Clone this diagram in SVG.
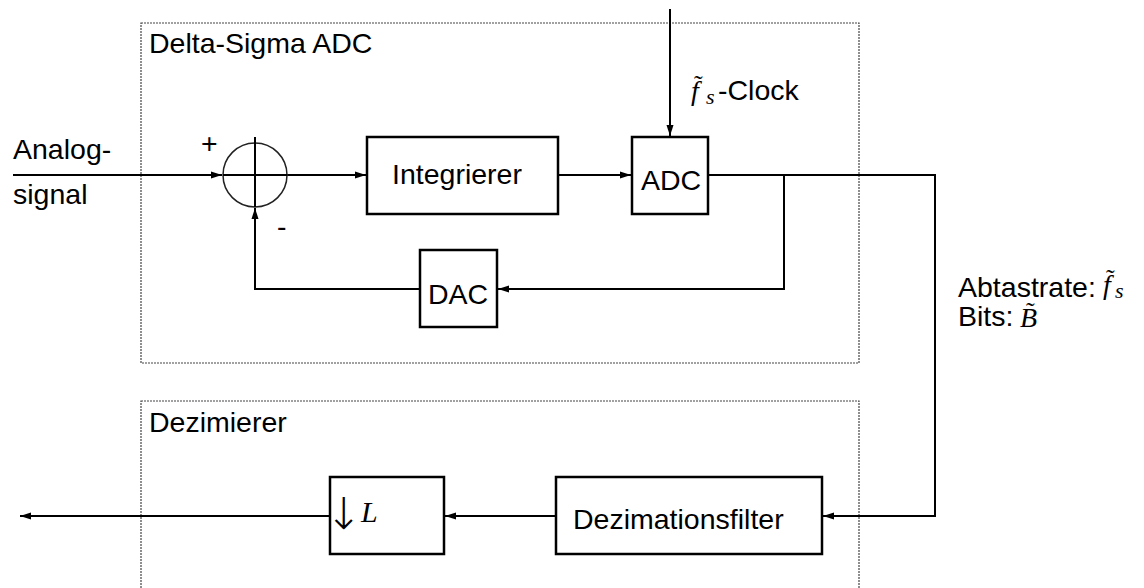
<svg xmlns="http://www.w3.org/2000/svg" width="1144" height="588" viewBox="0 0 1144 588">
<style>
.box{fill:#fff;stroke:#000;stroke-width:2.5}
.grp{fill:none;stroke:#444;stroke-width:1.2;stroke-dasharray:2 1}
.ln{fill:none;stroke:#000;stroke-width:2}
.t{font-family:"Liberation Sans",Arial,sans-serif;font-size:28.5px;fill:#000}
.m{font-family:"Liberation Serif","Times New Roman",serif;font-style:italic;fill:#000}
.ms{font-family:"Liberation Serif","Times New Roman",serif;fill:#000}
.ar{font-family:"DejaVu Sans",sans-serif;font-weight:200;fill:#000}
</style>
<defs>
<marker id="ah" markerWidth="12" markerHeight="8" refX="11" refY="4" orient="auto" markerUnits="userSpaceOnUse">
<path d="M0,0.5 L11,4 L0,7.5 Z" fill="#000"/>
</marker>
</defs>
<rect width="1144" height="588" fill="#fff"/>

<g id="group-deltasigma">
<rect class="grp" x="141" y="23" width="718" height="340"/>
<text class="t" x="149" y="53">Delta-Sigma ADC</text>
</g>
<g id="group-dezimierer">
<rect class="grp" x="141" y="401" width="718" height="220"/>
<text class="t" x="149" y="432">Dezimierer</text>
</g>

<g id="label-input">
<text class="t" x="13" y="159">Analog-</text>
<text class="t" x="13" y="204">signal</text>
</g>

<g id="connectors">
<path class="ln" d="M13,175 H222" marker-end="url(#ah)"/>
<path class="ln" d="M223,175 H366" marker-end="url(#ah)"/>
<path class="ln" d="M558,175 H631" marker-end="url(#ah)"/>
<path class="ln" d="M670,9 V136" marker-end="url(#ah)"/>
<path class="ln" d="M708,175 H935 V516 H823" marker-end="url(#ah)"/>
<path class="ln" d="M784,175 V289 H498" marker-end="url(#ah)"/>
<path class="ln" d="M420,289 H255 V208" marker-end="url(#ah)"/>
<path class="ln" d="M556,516 H445" marker-end="url(#ah)"/>
<path class="ln" d="M330,516 H20" marker-end="url(#ah)"/>
</g>

<g id="node-sum">
<circle cx="255" cy="175" r="32" fill="none" stroke="#222" stroke-width="1.5"/>
<path class="ln" d="M255,137 V207 M223,175 H287"/>
<text class="t" x="201" y="153">+</text>
<text class="t" x="277" y="236">-</text>
</g>

<g id="node-integrierer">
<rect class="box" x="367" y="137" width="191" height="77"/>
<text class="t" x="392" y="184">Integrierer</text>
</g>

<g id="node-adc">
<rect class="box" x="632" y="137" width="76" height="77"/>
<text class="t" x="641" y="190">ADC</text>
</g>

<g id="node-dac">
<rect class="box" x="420" y="250" width="77" height="77"/>
<text class="t" x="428" y="304">DAC</text>
</g>

<g id="node-dezfilter">
<rect class="box" x="556" y="477" width="266" height="77"/>
<text class="t" x="573" y="529">Dezimationsfilter</text>
</g>

<g id="node-down">
<rect class="box" x="330" y="477" width="114" height="77"/>
<text class="ar" x="344" y="529" font-size="44" text-anchor="middle">↓</text>
<text class="m" x="361" y="522" font-size="30">L</text>
</g>

<g id="label-clock">
<text class="m" x="691" y="100" font-size="28">f</text>
<text class="ms" x="694" y="93" font-size="26">˜</text>
<text class="m" x="706" y="104" font-size="22">s</text>
<text class="t" x="718" y="100">-Clock</text>
</g>

<g id="label-rate">
<text class="t" x="958" y="297">Abtastrate:</text>
<text class="m" x="1103" y="294" font-size="28">f</text>
<text class="ms" x="1106" y="287" font-size="26">˜</text>
<text class="m" x="1115" y="298" font-size="22">s</text>
<text class="t" x="958" y="326">Bits:</text>
<text class="m" x="1020" y="327" font-size="28">B</text>
<text class="ms" x="1026" y="320" font-size="26">˜</text>
</g>
</svg>
